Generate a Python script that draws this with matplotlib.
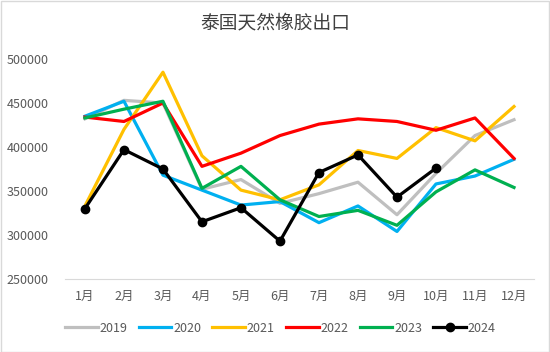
import matplotlib
matplotlib.use("Agg")
import matplotlib.pyplot as plt

plt.rcParams['font.family'] = ['Noto Sans CJK SC', 'DejaVu Sans']

months = ["1月", "2月", "3月", "4月", "5月", "6月", "7月", "8月", "9月", "10月", "11月", "12月"]

y2019 = [432000, 453000, 450000, 352000, 363000, 336000, 347000, 360000, 323000, 370000, 413000, 431000]
y2020 = [435000, 452000, 368000, 351000, 334000, 338000, 314000, 333000, 304000, 358000, 367000, 386000]
y2021 = [333000, 420000, 485000, 390000, 351000, 340000, 357000, 396000, 387000, 422000, 407000, 446000]
y2022 = [434000, 429000, 450000, 378000, 393000, 413000, 426000, 432000, 429000, 419000, 433000, 387000]
y2023 = [433000, 443000, 452000, 353000, 378000, 340000, 321000, 328000, 311000, 349000, 374000, 354000]
y2024 = [330000, 397000, 375000, 315000, 331000, 293000, 371000, 391000, 343000, 376000]

series = [
    ("2019", y2019, "#BFBFBF"),
    ("2020", y2020, "#00B0F0"),
    ("2021", y2021, "#FFC000"),
    ("2022", y2022, "#FF0000"),
    ("2023", y2023, "#00B050"),
]

fig = plt.figure(figsize=(5.5, 3.52), dpi=100)
ax = fig.add_axes([0.119, 0.2074, 0.851, 0.625])

x = list(range(len(months)))
for name, vals, color in series:
    ax.plot(x[:len(vals)], vals, color=color, lw=2.3, label=name)
ax.plot(x[:len(y2024)], y2024, color="black", lw=2.3, marker="o", markersize=6, label="2024")

ax.set_xlim(-0.5, 11.5)
ax.set_ylim(250000, 500000)
ax.set_yticks(range(250000, 500001, 50000))
ax.set_xticks(x)
ax.set_xticklabels(months)
ax.tick_params(length=0, colors="#595959", labelsize=9)
ax.tick_params(axis="x", pad=8)
ax.tick_params(axis="y", pad=12)
for s in ["top", "right", "left"]:
    ax.spines[s].set_visible(False)
ax.spines["bottom"].set_color("#D9D9D9")

fig.text(0.5, 0.935, "泰国天然橡胶出口", ha="center", va="center", fontsize=13.5, color="#404040")

fig.legend(loc="center", bbox_to_anchor=(0.51, 0.068), ncol=6, frameon=False,
           fontsize=9, handlelength=2.6, handletextpad=0.15, columnspacing=0.9,
           labelcolor="#595959")

fig.patches.append(plt.Rectangle((0.001, 0.001), 0.997, 0.997, transform=fig.transFigure,
                                 fill=False, edgecolor="#D9D9D9", lw=1))

fig.savefig("out.png", dpi=100)
